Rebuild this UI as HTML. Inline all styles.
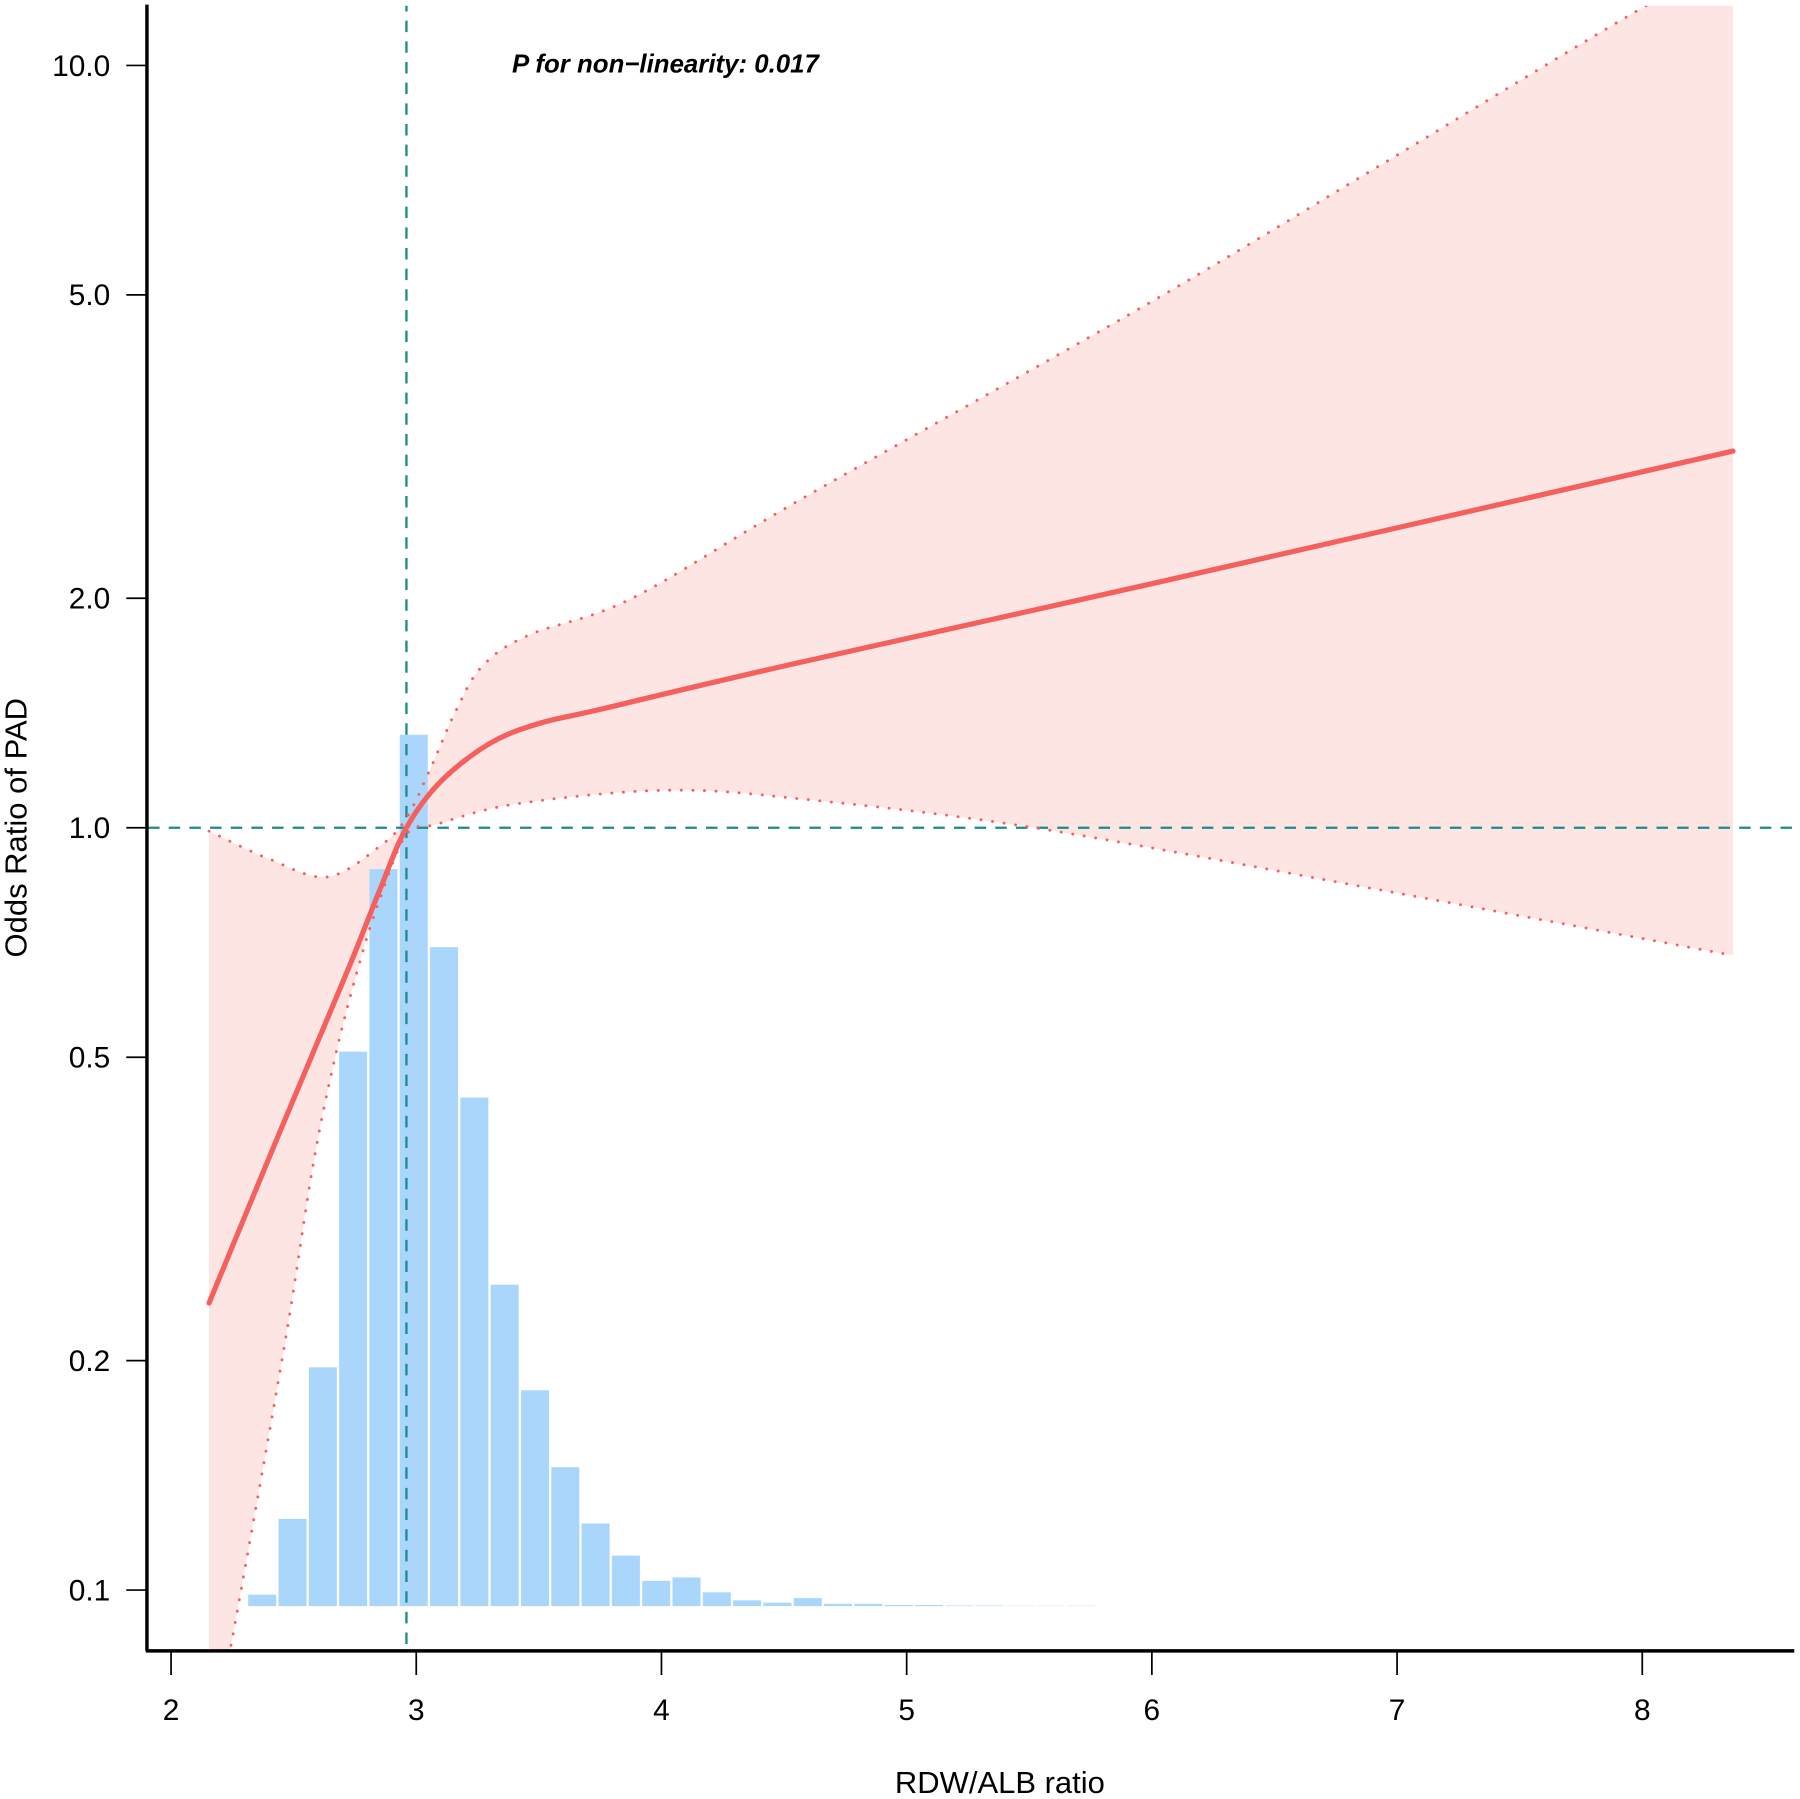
<!DOCTYPE html>
<html><head><meta charset="utf-8">
<style>
html,body{margin:0;padding:0;background:#fff;}
svg{display:block;font-family:"Liberation Sans",Arial,sans-serif;}
</style></head>
<body>
<svg id="chart" width="1800" height="1799" viewBox="0 0 1568 1567" preserveAspectRatio="none" xmlns="http://www.w3.org/2000/svg">
<defs><clipPath id="plotclip"><rect x="129" y="5" width="1434" height="1432"/></clipPath></defs>
<g id="band" clip-path="url(#plotclip)"></g>
<g id="hist"></g>
<g id="lines" clip-path="url(#plotclip)"></g>
<g id="axes"></g>
<text x="446" y="63" font-size="22.5" font-weight="bold" font-style="italic">P for non−linearity: 0.017</text>
<text x="871" y="1562" font-size="27" text-anchor="middle">RDW/ALB ratio</text>
<text transform="translate(23,721) rotate(-90)" font-size="27" text-anchor="middle">Odds Ratio of PAD</text>
</svg>
<script>
const xTicks = [2,3,4,5,6,7,8];
const yTicks = [0.1,0.2,0.5,1.0,2.0,5.0,10.0];
const yTickLabels = ["0.1","0.2","0.5","1.0","2.0","5.0","10.0"];
const curveX = [2.155,2.445,2.716,2.852,2.96,3.1,3.3,3.5,3.75,4.5,6,8.37];
const curveOR = [0.238,0.40,0.645,0.83,1.0,1.15,1.29,1.37,1.43,1.63,2.09,3.12];
const upperX = [2.155,2.4,2.637,2.852,2.96,3.06,3.16,3.27,3.46,3.88,4.58,5.98,6.92,8.02,8.37];
const upperOR = [0.99,0.91,0.862,0.946,1.03,1.2,1.42,1.63,1.79,2.0,2.71,4.86,7.36,12.0,13.5];
const lowerX = [2.155,2.24,2.46,2.58,2.674,2.77,2.85,2.96,3.08,3.41,4.02,4.58,5.52,6.92,8.37];
const lowerOR = [0.06,0.083,0.207,0.362,0.508,0.667,0.804,0.98,1.01,1.075,1.12,1.09,1.0,0.83,0.68];
const binStart = 2.31;
const binWidth = 0.1236;
const binCounts = [10,76,208,483,642,759,574,443,280,188,121,72,44,22,25,12,5,3,7,2,2,1,1,0.5,0.5,0.3,0.3,0.3];
const refX = 2.96;
const refOR = 1.0;

const NS="http://www.w3.org/2000/svg";
const X = v => 149 + (v-2)*213.6;
const Y = or => 721 - Math.log10(or)*664;
const H = c => c*1.0;
const histBase = 1399;
function mk(tag, attrs, parent){const e=document.createElementNS(NS,tag);for(const k in attrs)e.setAttribute(k,attrs[k]);parent.appendChild(e);return e;}
function segs(pts){
  let d="";
  for(let i=0;i<pts.length-1;i++){
    const p0=pts[Math.max(0,i-1)],p1=pts[i],p2=pts[i+1],p3=pts[Math.min(pts.length-1,i+2)];
    const c1=[p1[0]+(p2[0]-p0[0])/6,p1[1]+(p2[1]-p0[1])/6];
    const c2=[p2[0]-(p3[0]-p1[0])/6,p2[1]-(p3[1]-p1[1])/6];
    d+=" C"+c1[0]+","+c1[1]+" "+c2[0]+","+c2[1]+" "+p2[0]+","+p2[1];
  }
  return d;
}
function smooth(pts){return "M"+pts[0][0]+","+pts[0][1]+segs(pts);}
const up = upperX.map((v,i)=>[X(v),Y(upperOR[i])]);
const lo = lowerX.map((v,i)=>[X(v),Y(lowerOR[i])]);
const cu = curveX.map((v,i)=>[X(v),Y(curveOR[i])]);

const band=document.getElementById('band');
const loRev = lo.slice().reverse();
const bd = smooth(up) + " L" + loRev[0][0]+","+loRev[0][1] + segs(loRev) + " Z";
const bp=mk('path',{d:bd,fill:'#fde5e4',stroke:'none'},band);



const hist=document.getElementById('hist');
binCounts.forEach((c,i)=>{
  const x0=X(binStart+i*binWidth), x1=X(binStart+(i+1)*binWidth);
  const r=mk('rect',{x:x0+1,y:histBase-H(c),width:x1-x0-2,height:H(c),fill:'#abd6fb'},hist);
  
  
});

const lines=document.getElementById('lines');
const hl=mk('line',{x1:129,x2:1568,y1:Y(refOR),y2:Y(refOR),stroke:'#1a8a8a','stroke-width':2,'stroke-dasharray':'10,8'},lines);


const vl=mk('line',{x1:X(refX),x2:X(refX),y1:0,y2:1437,stroke:'#1a8a8a','stroke-width':2,'stroke-dasharray':'10,8'},lines);


const ul=mk('path',{d:smooth(up),fill:'none',stroke:'#f4605e','stroke-width':2.5,'stroke-dasharray':'0.1,10','stroke-linecap':'round'},lines);


const ll=mk('path',{d:smooth(lo),fill:'none',stroke:'#f4605e','stroke-width':2.5,'stroke-dasharray':'0.1,10','stroke-linecap':'round'},lines);


const cl=mk('path',{d:smooth(cu),fill:'none',stroke:'#f4605e','stroke-width':4.5,'stroke-linecap':'round'},lines);



const axes=document.getElementById('axes');
const ya=mk('line',{x1:128,x2:128,y1:4,y2:1438,stroke:'#000','stroke-width':3},axes);


const xa=mk('line',{x1:127,x2:1563,y1:1438,y2:1438,stroke:'#000','stroke-width':3},axes);


yTicks.forEach((t,i)=>{
  const y=Y(t);
  const tk=mk('line',{x1:110,x2:128,y1:y,y2:y,stroke:'#000','stroke-width':1.5},axes);
  
  
  const tx=mk('text',{x:96,y:y+9,'font-size':26,'text-anchor':'end'},axes);
  tx.textContent=yTickLabels[i];
  
  
});
xTicks.forEach(t=>{
  const x=X(t);
  const tk=mk('line',{x1:x,x2:x,y1:1438,y2:1459,stroke:'#000','stroke-width':1.5},axes);
  
  
  const tx=mk('text',{x:x,y:1498,'font-size':26,'text-anchor':'middle'},axes);
  tx.textContent=String(t);
  
  
});
</script>
</body></html>
